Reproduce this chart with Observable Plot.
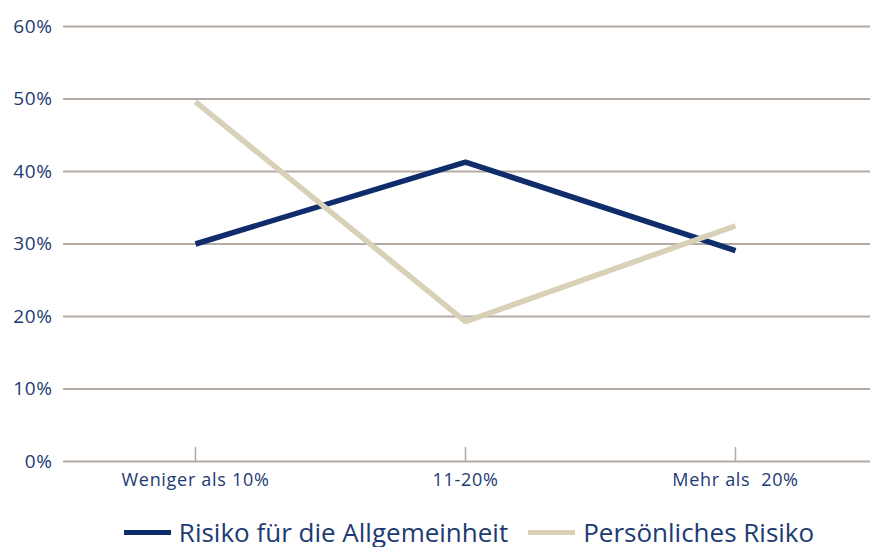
<!DOCTYPE html>
<html>
<head>
<meta charset="utf-8">
<script src="https://cdn.jsdelivr.net/npm/d3@7"></script>
<script src="https://cdn.jsdelivr.net/npm/@observablehq/plot@0.6"></script>
<style>
  body { margin: 0; background: #fff; font-family: "Open Sans", "Noto Sans", sans-serif; }
  #chart svg { display: block; }
  .legend { display: flex; justify-content: center; align-items: center; gap: 20px; color: #1d3a72; font-size: 26px; line-height: 30px; margin-top: 17px; margin-left: 68px; }
  .legend .item { display: flex; align-items: center; }
  .legend .sw { display: inline-block; width: 47px; height: 5px; margin-right: 8px; }
  .ylab text { font-size: 19px; letter-spacing: 0.6px; }
  .xlab text { font-size: 18px; letter-spacing: 0.7px; }
</style>
</head>
<body>
<div id="chart"></div>
<div class="legend" id="legend"></div>
<script>
const categories = ["Weniger als 10%", "11-20%", "Mehr als  20%"];
const seriesNames = ["Risiko für die Allgemeinheit", "Persönliches Risiko"];
const allgemeinheit = [30.0, 41.3, 29.1];
const persoenlich = [49.6, 19.3, 32.5];
const yTicks = [0, 10, 20, 30, 40, 50, 60];
const colors = ["#0f2d6b", "#d9d0b8"];

const data = [];
categories.forEach((c, i) => {
  data.push({cat: c, series: seriesNames[0], value: allgemeinheit[i]});
  data.push({cat: c, series: seriesNames[1], value: persoenlich[i]});
});

const navy = "#1d3a72";
const grid = "#b3aba3";

const plot = Plot.plot({
  width: 870,
  height: 500,
  marginTop: 26,
  marginBottom: 39,
  marginLeft: 60,
  marginRight: 0,
  style: {fontFamily: '"Open Sans", "Noto Sans", sans-serif', background: "#fff"},
  x: {type: "band", domain: categories, padding: 0, label: null},
  y: {domain: [0, 60], label: null},
  color: {domain: seriesNames, range: colors},
  marks: [
    Plot.ruleY(yTicks, {y: d => d, stroke: grid, strokeWidth: 2, insetLeft: 3}),
    Plot.ruleX(categories, {x: d => d, y1: 0, y2: 0, insetTop: -14, stroke: grid, strokeWidth: 1.5}),
    Plot.axisY(yTicks, {tickSize: 0, tickPadding: 8, tickFormat: d => d + "%", fill: navy, label: null, className: "ylab"}),
    Plot.axisX({tickSize: 0, tickPadding: 12, fill: navy, label: null, className: "xlab"}),
    Plot.line(data, {x: "cat", y: "value", z: "series", stroke: "series", strokeWidth: 5.5, strokeLinecap: "butt", strokeLinejoin: "miter"})
  ]
});
document.getElementById("chart").append(plot);

const legend = document.getElementById("legend");
seriesNames.forEach((s, i) => {
  const item = document.createElement("div");
  item.className = "item";
  const sw = document.createElement("span");
  sw.className = "sw";
  sw.style.background = colors[i];
  const t = document.createElement("span");
  t.textContent = s;
  item.append(sw, t);
  legend.append(item);
});
</script>
</body>
</html>
